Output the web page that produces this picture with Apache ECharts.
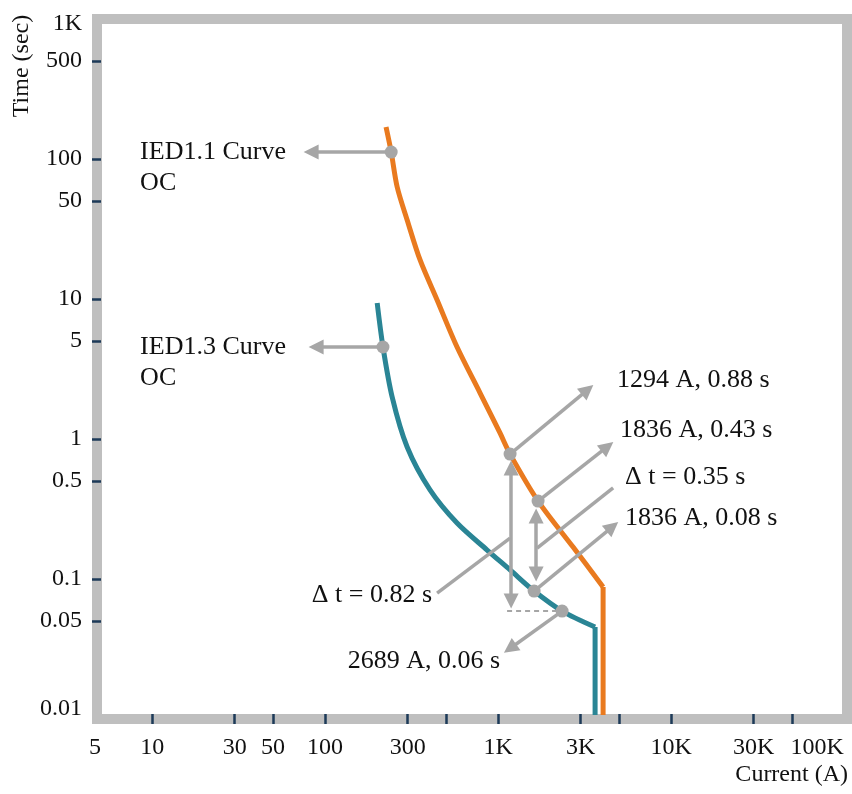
<!DOCTYPE html>
<html>
<head>
<meta charset="utf-8">
<script src="https://cdn.jsdelivr.net/npm/echarts@6/dist/echarts.min.js"></script>
<style>
  html, body { margin: 0; padding: 0; background: #fff; }
  #main { width: 852px; height: 794px; }
</style>
</head>
<body>
<div id="main"></div>
<script>
// IED1.1 curve (orange) - current (A) / time (s)
var ied11Current = [225, 241, 261, 298, 354, 444, 579, 787, 1027, 1173, 1703, 2714, 4046];
var ied11Time = [169, 112, 63.1, 36.7, 19.0, 9.84, 4.54, 2.13, 1.10, 0.78, 0.36, 0.169, 0.0877];
// instantaneous step (vertical part)
var ied11StepCurrent = [4046, 4046];
var ied11StepTime = [0.0877, 0.0107];

// IED1.3 curve (teal)
var ied13Current = [200, 216, 244, 298, 404, 579, 864, 1173, 1615, 2344, 3637];
var ied13Time = [9.36, 4.54, 2.0, 0.877, 0.433, 0.251, 0.161, 0.116, 0.082, 0.059, 0.0454];
var ied13StepCurrent = [3637, 3637];
var ied13StepTime = [0.0454, 0.0107];

// grey marker dots
var dotCurrent = [241, 216, 1173, 1703, 1615, 2344];
var dotTime = [112, 4.54, 0.78, 0.36, 0.082, 0.059];

// single-head arrows: from -> to
var arrowFrom = [[241, 112], [216, 4.54], [1173, 0.78], [1703, 0.36], [1615, 0.082], [2344, 0.059]];
var arrowTo = [[83, 112], [88.7, 4.54], [3289, 2.245], [4286, 0.881], [4581, 0.236], [1172, 0.0319]];

// double-head arrows (delta t)
var deltaFrom = [[1189, 0.621], [1659, 0.282]];
var deltaTo = [[1189, 0.0697], [1659, 0.1086]];

// leader lines without heads
var leaderFrom = [[444, 0.0794], [1680, 0.166]];
var leaderTo = [[1173, 0.196], [4624, 0.447]];

// dashed reference
var dashFrom = [1127, 0.059];
var dashTo = [2344, 0.059];

// annotation texts
var noteText = ['IED1.1 Curve\nOC', 'IED1.3 Curve\nOC', '1294 A, 0.88 s', '1836 A, 0.43 s',
  'Δ t = 0.35 s', '1836 A, 0.08 s', 'Δ t = 0.82 s', '2689 A, 0.06 s'];
var noteCurrent = [8.52, 8.52, 4876, 5070, 5420, 5420, 415, 1027];
var noteTime = [86.9, 3.52, 2.64, 1.159, 0.535, 0.273, 0.0769, 0.026];
var noteAlign = ['left', 'left', 'left', 'left', 'left', 'left', 'right', 'right'];

// axes
var xLabelValues = [5, 10, 30, 50, 100, 300, 1000, 3000, 10000, 30000, 100000];
var xLabelText = ['{l|5}', '10', '30', '50', '100', '300', '1K', '3K', '10K', '30K', '{r|100K}'];
var xTickValues = [10, 30, 50, 100, 300, 500, 1000, 3000, 5000, 10000, 30000, 50000];
var yLabelValues = [0.01, 0.05, 0.1, 0.5, 1, 5, 10, 50, 100, 500, 1000];
var yLabelText = ['{b|0.01}', '0.05', '0.1', '0.5', '1', '5', '10', '50', '100', '500', '{t|1K}'];
var yTickValues = [0.05, 0.1, 0.5, 1, 5, 10, 50, 100, 500];

var font = 'Liberation Serif';
var grey = '#a6a6a6';
var orange = '#e97a1f';
var teal = '#2a8595';
var tickColor = '#1d3a58';
var ink = '#111';

function pairs(xs, ys) {
  return xs.map(function (x, i) { return [x, ys[i]]; });
}
function pickLabel(values, texts) {
  return function (v) {
    var best = 0;
    for (var i = 1; i < values.length; i++) {
      if (Math.abs(Math.log(values[i]) - Math.log(v)) < Math.abs(Math.log(values[best]) - Math.log(v))) best = i;
    }
    return texts[best];
  };
}

var arrowLines = arrowFrom.map(function (p, i) {
  return [{ coord: p, symbol: 'none' }, { coord: arrowTo[i], symbol: 'triangle' }];
});
var deltaLines = deltaFrom.map(function (p, i) {
  return [{ coord: p, symbol: 'triangle' }, { coord: deltaTo[i], symbol: 'triangle' }];
});
var leaderLines = leaderFrom.map(function (p, i) {
  return [{ coord: p, symbol: 'none' }, { coord: leaderTo[i], symbol: 'none' }];
});

var notes = noteText.map(function (t, i) {
  return {
    value: [noteCurrent[i], noteTime[i]],
    label: { formatter: t, align: noteAlign[i] }
  };
});

var labelRich = {
  l: { fontFamily: font, fontSize: 24, color: ink, padding: [0, 10, 0, 0] },
  r: { fontFamily: font, fontSize: 24, color: ink, padding: [0, 54, 0, 0] },
  t: { fontFamily: font, fontSize: 24, color: ink, padding: [10, 0, 0, 0] },
  b: { fontFamily: font, fontSize: 24, color: ink, padding: [0, 0, 20, 0] }
};

var chart = echarts.init(document.getElementById('main'));

var option = {
  animation: false,
  backgroundColor: '#fff',
  textStyle: { fontFamily: font },
  grid: {
    left: 97, right: 5, top: 19, bottom: 75,
    show: true,
    borderColor: '#bfbfbf',
    borderWidth: 10,
    backgroundColor: '#fff'
  },
  xAxis: {
    type: 'log',
    logBase: 10,
    min: 4.8,
    max: 104000,
    offset: 5,
    axisLine: { show: false },
    splitLine: { show: false },
    axisTick: {
      show: true, inside: true, length: 10,
      customValues: xTickValues,
      lineStyle: { color: tickColor, width: 2.5 }
    },
    axisLabel: {
      customValues: xLabelValues,
      formatter: pickLabel(xLabelValues, xLabelText),
      showMinLabel: true, showMaxLabel: true, hideOverlap: false,
      fontFamily: font, fontSize: 24, color: ink, margin: 12,
      rich: labelRich
    }
  },
  yAxis: {
    type: 'log',
    logBase: 10,
    min: 0.01,
    max: 1000,
    offset: 5,
    axisLine: { show: false },
    splitLine: { show: false },
    axisTick: {
      show: true, inside: true, length: 9,
      customValues: yTickValues,
      lineStyle: { color: tickColor, width: 2.5 }
    },
    axisLabel: {
      customValues: yLabelValues,
      formatter: pickLabel(yLabelValues, yLabelText),
      showMinLabel: true, showMaxLabel: true, hideOverlap: false,
      fontFamily: font, fontSize: 24, color: ink, margin: 10,
      rich: labelRich
    }
  },
  graphic: [
    {
      type: 'text', x: 22, y: 66, rotation: Math.PI / 2,
      style: { text: 'Time (sec)', font: '24px "Liberation Serif"', fill: ink, align: 'center', verticalAlign: 'middle' }
    },
    {
      type: 'text', x: 848, y: 775,
      style: { text: 'Current (A)', font: '24px "Liberation Serif"', fill: ink, align: 'right', verticalAlign: 'middle' }
    }
  ],
  series: [
    {
      type: 'line', data: pairs(ied11Current, ied11Time), smooth: 0.3,
      showSymbol: false, lineStyle: { color: orange, width: 5 }, z: 2
    },
    {
      type: 'line', data: pairs(ied11StepCurrent, ied11StepTime),
      showSymbol: false, lineStyle: { color: orange, width: 5 }, z: 2
    },
    {
      type: 'line', data: pairs(ied13Current, ied13Time), smooth: 0.3,
      showSymbol: false, lineStyle: { color: teal, width: 5 }, z: 2
    },
    {
      type: 'line', data: pairs(ied13StepCurrent, ied13StepTime),
      showSymbol: false, lineStyle: { color: teal, width: 5 }, z: 2
    },
    {
      type: 'scatter',
      data: pairs(dotCurrent, dotTime),
      symbolSize: 13,
      itemStyle: { color: grey, opacity: 1 },
      z: 5,
      markLine: {
        silent: true,
        symbolSize: [15, 15],
        label: { show: false },
        lineStyle: { color: grey, width: 3.5, type: 'solid' },
        data: arrowLines.concat(deltaLines).concat(leaderLines).concat([
          [{ coord: dashFrom, symbol: 'none', lineStyle: { type: [5, 4], width: 2 } },
           { coord: dashTo, symbol: 'none' }]
        ])
      }
    },
    {
      type: 'scatter',
      data: notes,
      symbolSize: 0,
      silent: true,
      z: 6,
      itemStyle: { opacity: 1 },
      label: {
        show: true,
        position: 'inside',
        verticalAlign: 'middle',
        fontFamily: font,
        fontSize: 26,
        lineHeight: 31,
        color: ink,
        textBorderWidth: 0,
        opacity: 1
      }
    }
  ]
};

chart.setOption(option);
</script>
</body>
</html>
